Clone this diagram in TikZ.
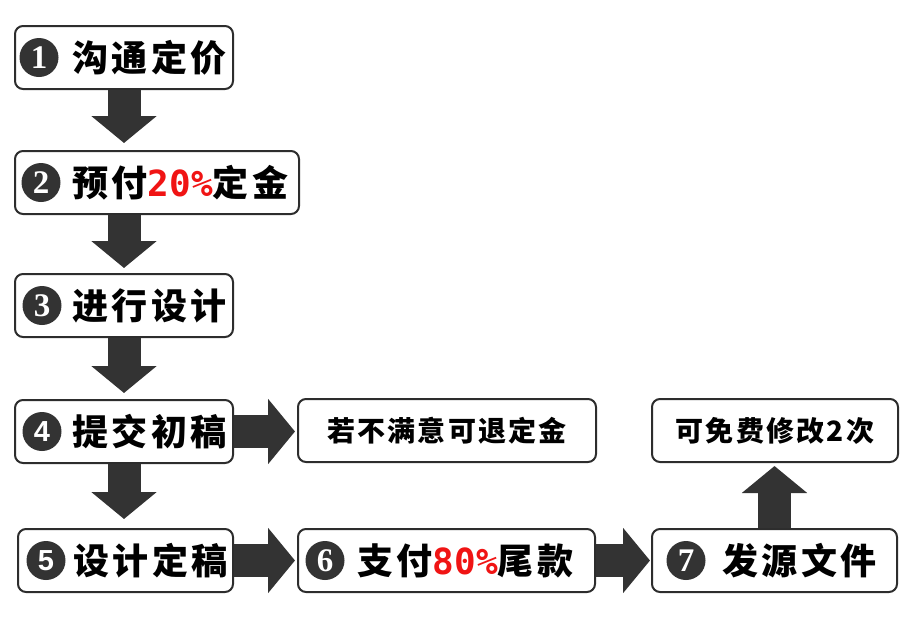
\documentclass[tikz,border=0pt]{standalone}
\usepackage{fontspec}
\usetikzlibrary{arrows.meta,positioning,calc}
\newfontfamily\cjk{Noto Sans CJK SC}[LetterSpace=10]
\newfontfamily\cjknote{Noto Sans CJK SC}[LetterSpace=8]
\newfontfamily\pctfont{DejaVu Sans Mono}
\newfontfamily\numserif{Liberation Serif}
\newfontfamily\numsans{Liberation Sans}
\definecolor{Ink}{RGB}{51,51,51}
\definecolor{Frame}{RGB}{45,45,45}
\definecolor{Pct}{RGB}{240,20,20}
\newcommand{\pct}[1]{\textcolor{Pct}{\pctfont\bfseries #1}}

\begin{document}
\begin{tikzpicture}[x=1pt,y=-1pt,
  box/.style={draw=Frame,line width=2pt,rounded corners=8pt,fill=white,anchor=north west,minimum height=63pt,inner sep=0pt},
  numdot/.style={circle,fill=Ink,text=white,minimum size=39pt,inner sep=0pt,font=\numserif\bfseries\fontsize{33}{33}\selectfont},
  numdotsans/.style={numdot,font=\numsans\bfseries\fontsize{29}{29}\selectfont},
  steptext/.style={anchor=west,inner sep=0pt,font=\cjk\bfseries\fontsize{36}{36}\selectfont},
  notetext/.style={font=\cjknote\bfseries\fontsize{28}{28}\selectfont},
  flow/.style={draw=Ink,line width=33pt,-{Triangle[width=64pt,length=27pt]}}]
  \useasboundingbox (0,0) rectangle (913,625);

  % left column
  \node[box,minimum width=218pt] (s1) at (14,25) {};
  \node[numdot] (c1) at ([xshift=25pt]s1.west) {1};
  \node[steptext] (t1) at ([xshift=58pt]s1.west) {沟通定价};
  \node[box,minimum width=284pt] (s2) at (14,150) {};
  \node[numdot] (c2) at ([xshift=27pt]s2.west) {2};
  \node[steptext] (t2) at ([xshift=58pt]s2.west) {预付\pct{20\%}定金};
  \node[box,minimum width=218pt] (s3) at (14,273) {};
  \node[numdot] (c3) at ([xshift=28pt]s3.west) {3};
  \node[steptext] (t3) at ([xshift=58pt]s3.west) {进行设计};
  \node[box,minimum width=218pt] (s4) at (14,399) {};
  \node[numdotsans] (c4) at ([xshift=28pt]s4.west) {4};
  \node[steptext] (t4) at ([xshift=58pt]s4.west) {提交初稿};
  \node[box,minimum width=215pt] (s5) at (17,528) {};
  \node[numdotsans] (c5) at ([xshift=29pt]s5.west) {5};
  \node[steptext] (t5) at ([xshift=56pt]s5.west) {设计定稿};

  % bottom row
  \node[box,minimum width=297pt] (s6) at (297,528) {};
  \node[numdot] (c6) at ([xshift=28pt]s6.west) {6};
  \node[steptext] (t6) at ([xshift=60pt]s6.west) {支付\pct{80\%}尾款};
  \node[box,minimum width=245pt] (s7) at (651,528) {};
  \node[numdot] (c7) at ([xshift=35pt]s7.west) {7};
  \node[steptext] (t7) at ([xshift=71pt]s7.west) {发源文件};

  % notes
  \node[box,notetext,minimum width=298pt] (refund) at (297,398) {若不满意可退定金};
  \node[box,notetext,minimum width=246pt] (revise) at (651,398) {可免费修改2次};

  \draw[flow,shorten >=7pt] (s1.south) -- (s1.south |- s2.north);
  \draw[flow,shorten >=5pt] (s3.north |- s2.south) -- (s3.north);
  \draw[flow,shorten >=6pt] (s3.south) -- (s4.north);
  \draw[flow,shorten >=9pt] (s4.south) -- (s4.south |- s5.north);
  \draw[flow,shorten >=2pt] (s4.east) -- (s4.east -| refund.west);
  \draw[flow,shorten >=2pt] (s5.east) -- (s5.east -| s6.west);
  \draw[flow,shorten >=1pt] (s6.east) -- (s6.east -| s7.west);
  \draw[flow,shorten >=3pt] (s7.north) -- (s7.north |- revise.south);
\end{tikzpicture}
\end{document}
